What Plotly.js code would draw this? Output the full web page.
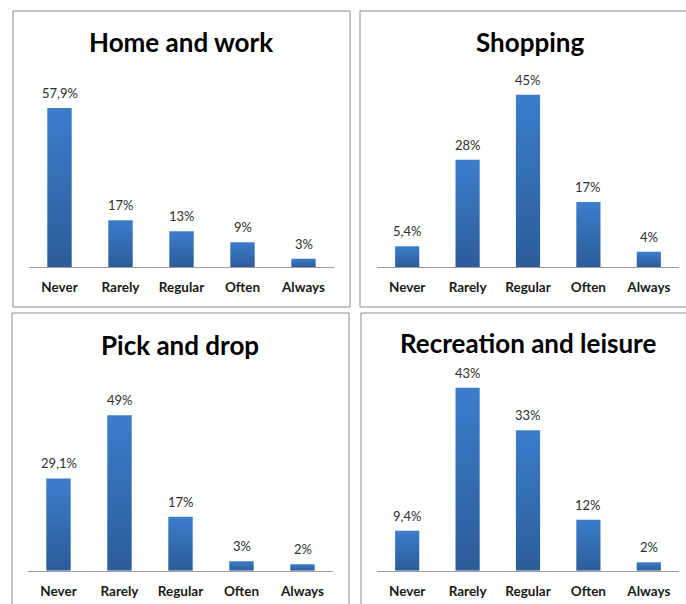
<!DOCTYPE html>
<html>
<head>
<meta charset="utf-8">
<script src="https://cdn.plot.ly/plotly-3.0.1.min.js"></script>
<style>html,body{margin:0;padding:0;background:#fff;}#chart{width:686px;height:604px;}</style>
</head>
<body>
<div id="chart"></div>
<script>
const categories = ["Never", "Rarely", "Regular", "Often", "Always"];
const panelTitles = ["Home and work", "Shopping", "Pick and drop", "Recreation and leisure"];
const homeWork = [57.9, 17, 13, 9, 3];
const shopping = [5.4, 28, 45, 17, 4];
const pickDrop = [29.1, 49, 17, 3, 2];
const recreation = [9.4, 43, 33, 12, 2];
const series = [homeWork, shopping, pickDrop, recreation];

const W = 686, H = 604;
const px = v => v / W;
const py = v => 1 - v / H;
const FONT = "Lato, 'Open Sans', sans-serif";
const fmt = v => String(v).replace('.', ',') + '%';

// panel geometry (pixels): x domain, y bottom/top, y range max
const panels = [
  {x0: 29, x1: 334, yb: 267, yt: 74.8, max: 70, tx: 181, ty: 42, box: [13, 11, 350, 307]},
  {x0: 377, x1: 679, yb: 267, yt: 75.5, max: 50, tx: 529.5, ty: 42, box: [360, 11, 692, 307]},
  {x0: 28, x1: 333, yb: 570.7, yt: 380.5, max: 60, tx: 180, ty: 345, box: [12, 313, 349, 612]},
  {x0: 377, x1: 679, yb: 570.7, yt: 358, max: 50, tx: 528, ty: 343, box: [361, 313, 692, 612]}
];

const data = [];
const layout = {
  width: W, height: H,
  margin: {l: 0, r: 0, t: 0, b: 0},
  paper_bgcolor: '#fff', plot_bgcolor: 'rgba(0,0,0,0)',
  showlegend: false,
  bargap: 0.6,
  annotations: [],
  shapes: []
};

panels.forEach((p, i) => {
  const s = i === 0 ? '' : String(i + 1);
  data.push({
    type: 'bar', x: categories, y: series[i],
    xaxis: 'x' + s, yaxis: 'y' + s,
    marker: {color: '#3470b8', line: {width: 0}},
    hoverinfo: 'none'
  });
  layout['xaxis' + s] = {
    domain: [px(p.x0), px(p.x1)], anchor: 'y' + s,
    type: 'category', showgrid: false, zeroline: false,
    showline: true, linecolor: '#9c9c9c', linewidth: 1,
    ticks: '', ticklabelstandoff: 8,
    tickfont: {family: FONT, size: 13.5, color: '#1a1a1a', weight: 'bold'},
    fixedrange: true
  };
  layout['yaxis' + s] = {
    domain: [py(p.yb), py(p.yt)], anchor: 'x' + s,
    range: [0, p.max], visible: false, showgrid: false, zeroline: false,
    fixedrange: true
  };
  series[i].forEach((v, j) => {
    layout.annotations.push({
      xref: 'x' + s, yref: 'y' + s, x: categories[j], y: v,
      text: fmt(v), showarrow: false, yanchor: 'bottom', yshift: 5,
      font: {family: FONT, size: 13, color: '#2e2e2e'}
    });
  });
  layout.annotations.push({
    xref: 'paper', yref: 'paper', x: px(p.tx), y: py(p.ty),
    xanchor: 'center', yanchor: 'middle', showarrow: false,
    text: '<b>' + panelTitles[i] + '</b>',
    font: {family: FONT, size: 26, color: '#000'}
  });
  layout.shapes.push({
    type: 'rect', xref: 'paper', yref: 'paper', layer: 'below',
    x0: px(p.box[0]), x1: px(p.box[2]), y0: py(p.box[3]), y1: py(p.box[1]),
    line: {color: '#8c8c8c', width: 1}, fillcolor: 'rgba(0,0,0,0)'
  });
});

Plotly.newPlot('chart', data, layout, {displayModeBar: false, staticPlot: true}).then(gd => {
  const svg = gd.querySelector('.main-svg');
  const ns = 'http://www.w3.org/2000/svg';
  let defs = svg.querySelector('defs');
  if (!defs) { defs = document.createElementNS(ns, 'defs'); svg.insertBefore(defs, svg.firstChild); }
  const g = document.createElementNS(ns, 'linearGradient');
  g.setAttribute('id', 'barGrad');
  g.setAttribute('x1', '0'); g.setAttribute('y1', '0');
  g.setAttribute('x2', '0'); g.setAttribute('y2', '1');
  [['0', '#3b7dcc'], ['1', '#2c5c99']].forEach(([o, c]) => {
    const st = document.createElementNS(ns, 'stop');
    st.setAttribute('offset', o); st.setAttribute('stop-color', c);
    g.appendChild(st);
  });
  defs.appendChild(g);
  gd.querySelectorAll('.bars .point path').forEach(p => { p.style.fill = 'url(#barGrad)'; });
});
</script>
</body>
</html>
